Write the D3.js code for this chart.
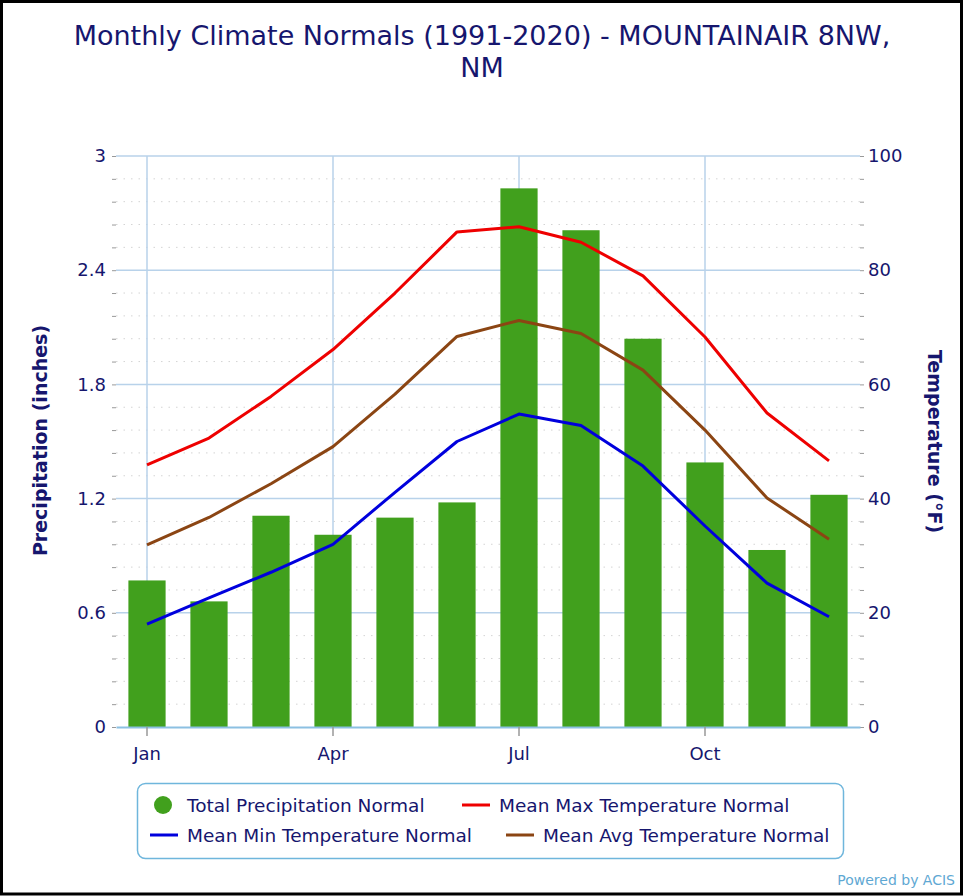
<!DOCTYPE html>
<html>
<head>
<meta charset="utf-8">
<script src="https://d3js.org/d3.v7.min.js"></script>
<style>
  body { margin: 0; background: #fff; }
  svg text { font-family: 'DejaVu Sans', sans-serif; fill: #16166e; }
  .tick line { stroke: #999; }
</style>
</head>
<body>
<div class="d3-wrapper"></div>
<script>
// values
const months = ['Jan', 'Feb', 'Mar', 'Apr', 'May', 'Jun', 'Jul', 'Aug', 'Sep', 'Oct', 'Nov', 'Dec'];
const precip = [0.77, 0.66, 1.11, 1.01, 1.10, 1.18, 2.83, 2.61, 2.04, 1.39, 0.93, 1.22];
const maxTemp = [45.9, 50.6, 57.9, 66.1, 76.0, 86.7, 87.6, 84.9, 79.0, 68.3, 55.0, 46.6];
const avgTemp = [31.9, 36.7, 42.6, 49.1, 58.3, 68.4, 71.2, 68.9, 62.5, 52.0, 40.1, 32.9];
const minTemp = [18.0, 22.6, 27.1, 32.0, 41.1, 50.0, 54.8, 52.8, 45.7, 35.2, 25.2, 19.3];
const precipTicks = [0, 0.6, 1.2, 1.8, 2.4, 3];
const tempTicks = [0, 20, 40, 60, 80, 100];
const monthTicks = ['Jan', 'Apr', 'Jul', 'Oct'];

const MARGIN = { top: 156, right: 104, bottom: 169, left: 116 };
const OUTER_WIDTH = 964,
  OUTER_HEIGHT = 896,
  INNER_WIDTH = OUTER_WIDTH - MARGIN.left - MARGIN.right,
  INNER_HEIGHT = OUTER_HEIGHT - MARGIN.top - MARGIN.bottom;

const GRID = '#b8d2ea';
const NAVY = '#16166e';

const xScale = d3.scaleBand().domain(months).range([0, INNER_WIDTH]);
const yLeft = d3.scaleLinear().domain([0, 3]).range([INNER_HEIGHT, 0]);
const yRight = d3.scaleLinear().domain([0, 100]).range([INNER_HEIGHT, 0]);
const xMid = m => xScale(m) + xScale.bandwidth() / 2;

const root = d3.select('.d3-wrapper').append('svg')
  .attr('width', OUTER_WIDTH)
  .attr('height', OUTER_HEIGHT);

// outer frame
root.append('rect')
  .attr('x', 1.5).attr('y', 1.5)
  .attr('width', OUTER_WIDTH - 4).attr('height', OUTER_HEIGHT - 3.5)
  .attr('fill', '#fff')
  .attr('stroke', '#000')
  .attr('stroke-width', 3);

root.append('text')
  .attr('x', OUTER_WIDTH / 2).attr('y', 45)
  .attr('text-anchor', 'middle')
  .style('font-size', '27px')
  .text('Monthly Climate Normals (1991-2020) - MOUNTAINAIR 8NW,');
root.append('text')
  .attr('x', OUTER_WIDTH / 2).attr('y', 77)
  .attr('text-anchor', 'middle')
  .style('font-size', '27px')
  .text('NM');

const svg = root.append('g')
  .attr('transform', `translate(${MARGIN.left}, ${MARGIN.top})`);

// minor (dotted) and major grid lines, 5 steps per labelled interval
const minorVals = d3.range(0, 26).map(i => i * 0.12);
svg.selectAll('.minor')
  .data(minorVals.filter((d, i) => i % 5 !== 0))
  .enter().append('line')
  .attr('class', 'minor')
  .attr('x1', 0).attr('x2', INNER_WIDTH)
  .attr('y1', d => yLeft(d)).attr('y2', d => yLeft(d))
  .attr('stroke', '#d4d4d4')
  .attr('stroke-dasharray', '1.5,6');

svg.selectAll('.major')
  .data(precipTicks.slice(1))
  .enter().append('line')
  .attr('class', 'major')
  .attr('x1', 0).attr('x2', INNER_WIDTH)
  .attr('y1', d => yLeft(d)).attr('y2', d => yLeft(d))
  .attr('stroke', GRID)
  .attr('stroke-width', 1.5);

svg.selectAll('.vgrid')
  .data(monthTicks)
  .enter().append('line')
  .attr('class', 'vgrid')
  .attr('x1', xMid).attr('x2', xMid)
  .attr('y1', 0).attr('y2', INNER_HEIGHT)
  .attr('stroke', GRID)
  .attr('stroke-width', 1.5);

// left axis
const leftAxis = d3.axisLeft(yLeft)
  .tickValues(minorVals)
  .tickSize(4)
  .tickPadding(6)
  .tickFormat((d, i) => i % 5 === 0 ? precipTicks[i / 5] : '');
svg.append('g').call(leftAxis)
  .call(g => g.select('.domain').remove())
  .call(g => g.selectAll('text').style('font-size', '18px').attr('fill', NAVY));

// right axis
const rightAxis = d3.axisRight(yRight)
  .tickValues(d3.range(0, 26).map(i => i * 4))
  .tickSize(4)
  .tickPadding(4)
  .tickFormat((d, i) => i % 5 === 0 ? tempTicks[i / 5] : '');
svg.append('g')
  .attr('transform', `translate(${INNER_WIDTH}, 0)`)
  .call(rightAxis)
  .call(g => g.select('.domain').remove())
  .call(g => g.selectAll('text').style('font-size', '18px').attr('fill', NAVY));

// bars
const barW = xScale.bandwidth() * 0.6;
svg.selectAll('.bar')
  .data(precip)
  .enter().append('rect')
  .attr('class', 'bar')
  .attr('x', (d, i) => xMid(months[i]) - barW / 2)
  .attr('width', barW)
  .attr('y', d => yLeft(d))
  .attr('height', d => INNER_HEIGHT - yLeft(d))
  .attr('fill', '#41a01d');

// bottom axis
const xAxis = d3.axisBottom(xScale)
  .tickValues(monthTicks)
  .tickSize(9)
  .tickSizeOuter(0)
  .tickPadding(11);
svg.append('g')
  .attr('transform', `translate(0, ${INNER_HEIGHT})`)
  .call(xAxis)
  .call(g => g.select('.domain').attr('stroke', '#8cc0e2').attr('stroke-width', 2))
  .call(g => g.selectAll('.tick line').attr('stroke', GRID).attr('stroke-width', 1.5))
  .call(g => g.selectAll('text').style('font-size', '18px').attr('fill', NAVY));

// temperature lines
const line = d3.line()
  .x((d, i) => xMid(months[i]))
  .y(d => yRight(d));
const series = [
  { values: maxTemp, color: '#ee0000' },
  { values: avgTemp, color: '#8b4513' },
  { values: minTemp, color: '#0000dd' }
];
svg.selectAll('.temp')
  .data(series)
  .enter().append('path')
  .attr('class', 'temp')
  .attr('d', d => line(d.values))
  .attr('fill', 'none')
  .attr('stroke', d => d.color)
  .attr('stroke-width', 3)
  .attr('stroke-linejoin', 'round');

// axis titles
svg.append('text')
  .attr('transform', `translate(${-69}, ${INNER_HEIGHT / 2 - 1}) rotate(-90)`)
  .attr('text-anchor', 'middle')
  .style('font-size', '19px')
  .style('font-weight', 'bold')
  .text('Precipitation (inches)');

svg.append('text')
  .attr('transform', `translate(${INNER_WIDTH + 68}, ${INNER_HEIGHT / 2}) rotate(90)`)
  .attr('text-anchor', 'middle')
  .style('font-size', '19px')
  .style('font-weight', 'bold')
  .text('Temperature (°F)');

// legend
const legend = root.append('g');
legend.append('rect')
  .attr('x', 137.5).attr('y', 783.5)
  .attr('width', 706).attr('height', 75)
  .attr('rx', 8)
  .attr('fill', '#fff')
  .attr('stroke', '#6fb6dc')
  .attr('stroke-width', 1.5);

const legendItems = [
  { label: 'Total Precipitation Normal', color: '#41a01d', dot: true, x: 187, y: 805 },
  { label: 'Mean Max Temperature Normal', color: '#ee0000', x: 499, y: 805 },
  { label: 'Mean Min Temperature Normal', color: '#0000dd', x: 187, y: 835 },
  { label: 'Mean Avg Temperature Normal', color: '#8b4513', x: 543, y: 835 }
];
const li = legend.selectAll('.legend')
  .data(legendItems)
  .enter().append('g')
  .attr('class', 'legend')
  .attr('transform', d => `translate(${d.x}, ${d.y})`);
li.filter(d => d.dot).append('circle')
  .attr('cx', -24)
  .attr('r', 9)
  .attr('fill', d => d.color);
li.filter(d => !d.dot).append('line')
  .attr('x1', -37).attr('x2', -9)
  .attr('stroke', d => d.color)
  .attr('stroke-width', 3);
li.append('text')
  .attr('y', 7)
  .style('font-size', '18.5px')
  .text(d => d.label);

root.append('text')
  .attr('x', 955).attr('y', 885)
  .attr('text-anchor', 'end')
  .style('font-size', '14px')
  .style('fill', '#5fa8d3')
  .text('Powered by ACIS');
</script>
</body>
</html>
